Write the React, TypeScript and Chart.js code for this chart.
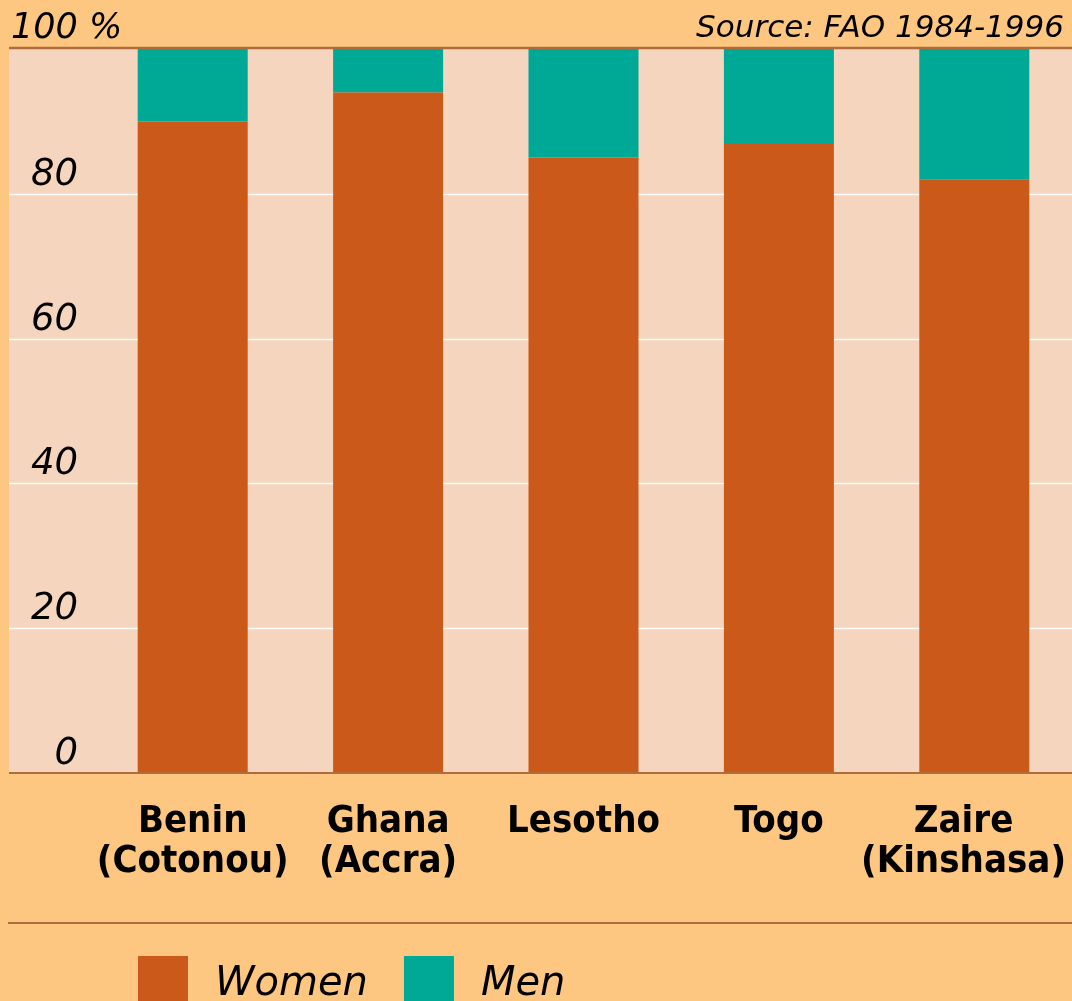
import React, { useEffect, useRef } from "react";
import { Chart, registerables } from "chart.js";

Chart.register(...registerables);

const categories: string[][] = [
  ["Benin", "(Cotonou)"],
  ["Ghana", "(Accra)"],
  ["Lesotho"],
  ["Togo"],
  ["Zaire", "(Kinshasa)"],
];
const women: number[] = [90, 94, 85, 87, 82];
const men: number[] = [10, 6, 15, 13, 18];
const yTicks: number[] = [0, 20, 40, 60, 80];
const topLabel = "100 %";
const sourceLabel = "Source: FAO 1984-1996";

const BG = "#FEC781";
const PLOT = "#F5D5BE";
const WOMEN = "#CB5A1A";
const MEN = "#00A896";
const LINE = "#B06C3C";

export default function App() {
  const ref = useRef<HTMLCanvasElement | null>(null);
  useEffect(() => {
    document.body.style.margin = "0";
    document.body.style.background = BG;
    const canvas = ref.current!;
    const decor = {
      id: "decor",
      beforeDraw(chart: any) {
        const { ctx, width, height } = chart;
        const y = chart.scales.y;
        const area = chart.chartArea;
        ctx.save();
        ctx.fillStyle = BG;
        ctx.fillRect(0, 0, width, height);
        ctx.fillStyle = PLOT;
        ctx.fillRect(9, area.top, width - 9, area.bottom - area.top);
        ctx.strokeStyle = "#FFFFFF";
        ctx.lineWidth = 1.5;
        yTicks.forEach((v) => {
          if (v === 0) return;
          const py = Math.round(y.getPixelForValue(v)) + 0.5;
          ctx.beginPath();
          ctx.moveTo(9, py);
          ctx.lineTo(width, py);
          ctx.stroke();
        });
        ctx.restore();
      },
      afterDraw(chart: any) {
        const { ctx, width } = chart;
        const y = chart.scales.y;
        const x = chart.scales.x;
        const area = chart.chartArea;
        ctx.save();
        ctx.strokeStyle = LINE;
        ctx.lineWidth = 2.5;
        ctx.beginPath();
        ctx.moveTo(9, area.top - 1);
        ctx.lineTo(width, area.top - 1);
        ctx.stroke();
        ctx.lineWidth = 2;
        ctx.beginPath();
        ctx.moveTo(9, area.bottom);
        ctx.lineTo(width, area.bottom);
        ctx.stroke();
        ctx.beginPath();
        ctx.moveTo(8, 923);
        ctx.lineTo(width, 923);
        ctx.stroke();

        ctx.fillStyle = "#000";
        ctx.font = "italic 37px 'DejaVu Sans'";
        ctx.textAlign = "right";
        ctx.textBaseline = "alphabetic";
        yTicks.forEach((v) => {
          const py = y.getPixelForValue(v);
          ctx.fillText(String(v), 78, py - 9);
        });
        ctx.textAlign = "left";
        ctx.font = "italic 35px 'DejaVu Sans'";
        ctx.fillText(topLabel, 11, 38);
        ctx.font = "italic 31px 'DejaVu Sans'";
        ctx.textAlign = "right";
        ctx.fillText(sourceLabel, 1064, 37);

        ctx.font = "bold 38px 'DejaVu Sans Condensed'";
        ctx.textAlign = "center";
        categories.forEach((lines, i) => {
          const px = x.getPixelForValue(i);
          const maxW = Math.max(...lines.map((l) => ctx.measureText(l).width));
          const cx = Math.min(px, width - 6 - maxW / 2);
          lines.forEach((l, j) => {
            ctx.fillText(l, cx, 832 + j * 40);
          });
        });

        const items = chart.data.datasets.map((d: any) => ({ label: d.label, color: d.backgroundColor }));
        ctx.font = "italic 40px 'DejaVu Sans'";
        ctx.textAlign = "left";
        let lx = 138;
        items.forEach((it: any) => {
          ctx.fillStyle = it.color;
          ctx.fillRect(lx, 956, 50, 50);
          ctx.fillStyle = "#000";
          ctx.fillText(it.label, lx + 77, 995);
          lx += 77 + ctx.measureText(it.label).width + 36;
        });
        ctx.restore();
      },
    };
    const chart = new Chart(canvas, {
      type: "bar",
      data: {
        labels: categories.map((c) => c.join(" ")),
        datasets: [
          { label: "Women", data: women, backgroundColor: WOMEN, borderWidth: 0 },
          { label: "Men", data: men, backgroundColor: MEN, borderWidth: 0 },
        ],
      },
      options: {
        animation: false,
        responsive: false,
        maintainAspectRatio: false,
        layout: { padding: { left: 95, right: 0, top: 49, bottom: 228 } },
        datasets: { bar: { categoryPercentage: 1, barPercentage: 0.563 } } as any,
        plugins: { legend: { display: false }, tooltip: { enabled: false } },
        scales: {
          x: { display: false, stacked: true, offset: true },
          y: { display: false, stacked: true, min: 0, max: 100 },
        },
      },
      plugins: [decor],
    });
    return () => chart.destroy();
  }, []);
  return <canvas ref={ref} width={1072} height={1001} style={{ display: "block" }} />;
}
